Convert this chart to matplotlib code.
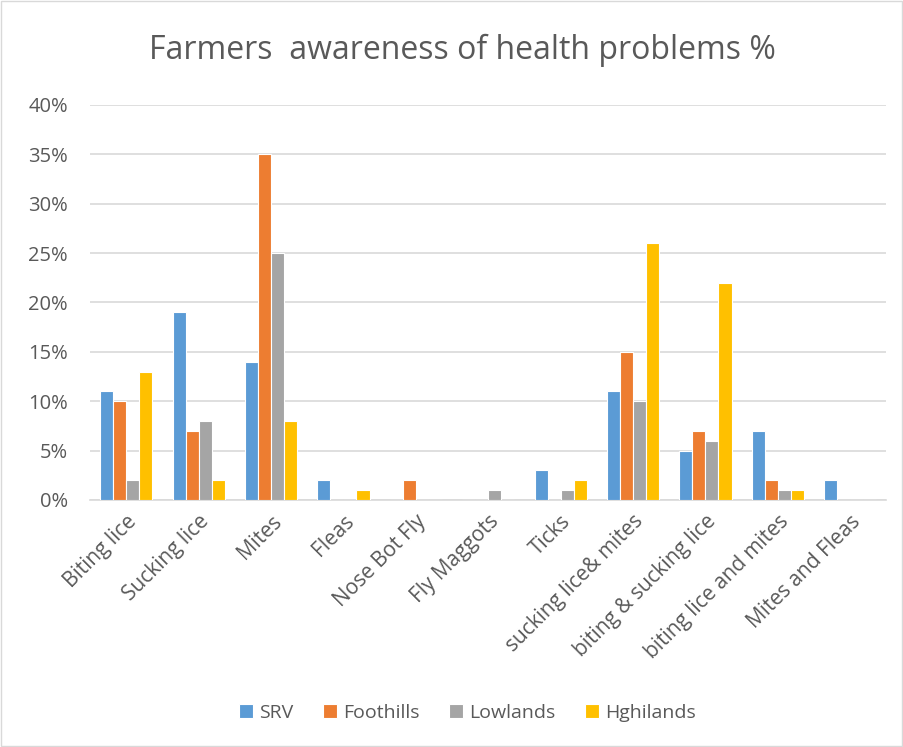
import matplotlib
matplotlib.use("Agg")
import matplotlib.pyplot as plt
import numpy as np
from matplotlib.patches import Rectangle

categories = ["Biting lice", "Sucking lice", "Mites", "Fleas", "Nose Bot Fly",
              "Fly Maggots", "Ticks", "sucking lice& mites", "biting & sucking lice",
              "biting lice and mites", "Mites and Fleas"]
srv = [11, 19, 14, 2, 0, 0, 3, 11, 5, 7, 2]
foothills = [10, 7, 35, 0, 2, 0, 0, 15, 7, 2, 0]
lowlands = [2, 8, 25, 0, 0, 1, 1, 10, 6, 1, 0]
highlands = [13, 2, 8, 1, 0, 0, 2, 26, 22, 1, 0]
series_names = ["SRV", "Foothills", "Lowlands", "Hghilands"]
yticks = [0, 5, 10, 15, 20, 25, 30, 35, 40]

colors = ["#5B9BD5", "#ED7D31", "#A5A5A5", "#FFC000"]
txt = "#595959"
plt.rcParams['font.family'] = ['Open Sans', 'DejaVu Sans']

fig = plt.figure(figsize=(9.04, 7.47), dpi=100)
ax = fig.add_axes([0.0996, 0.3307, 0.881, 0.5288])

x = np.arange(len(categories))
w = 0.18
data = [srv, foothills, lowlands, highlands]
for i, (vals, c, n) in enumerate(zip(data, colors, series_names)):
    ax.bar(x + (i - 1.5) * w, vals, width=w, color=c, edgecolor="white",
           linewidth=0.8, label=n, zorder=3)

ax.set_xlim(-0.5, len(categories) - 0.5)
ax.set_ylim(0, 40)
ax.set_yticks(yticks)
ax.set_yticklabels([f"{v}%" for v in yticks], color=txt, fontsize=14.5)
ax.set_xticks(x)
ax.set_xticklabels(categories, rotation=45, ha="right", rotation_mode="anchor",
                   color=txt, fontsize=15)
ax.tick_params(axis="y", length=0, pad=16)
ax.tick_params(axis="x", length=0, pad=8)
ax.grid(axis="y", color="#D9D9D9", linewidth=1.2, zorder=0)
for s in ["top", "right", "left"]:
    ax.spines[s].set_visible(False)
ax.spines["bottom"].set_color("#D9D9D9")
ax.spines["bottom"].set_linewidth(1.2)

fig.text(0.511, 0.932, "Farmers  awareness of health problems %", ha="center",
         va="center", fontsize=23, color=txt)

fig.legend(loc="center", bbox_to_anchor=(0.517, 0.0455), ncol=4, frameon=False,
           fontsize=14, handlelength=0.75, handleheight=0.75, handletextpad=0.3,
           columnspacing=1.5, labelcolor=txt)

fig.patches.append(Rectangle((0.001, 0.001), 0.997, 0.997, transform=fig.transFigure,
                             fill=False, edgecolor="#D9D9D9", linewidth=1))

fig.savefig("out.png", dpi=100)
